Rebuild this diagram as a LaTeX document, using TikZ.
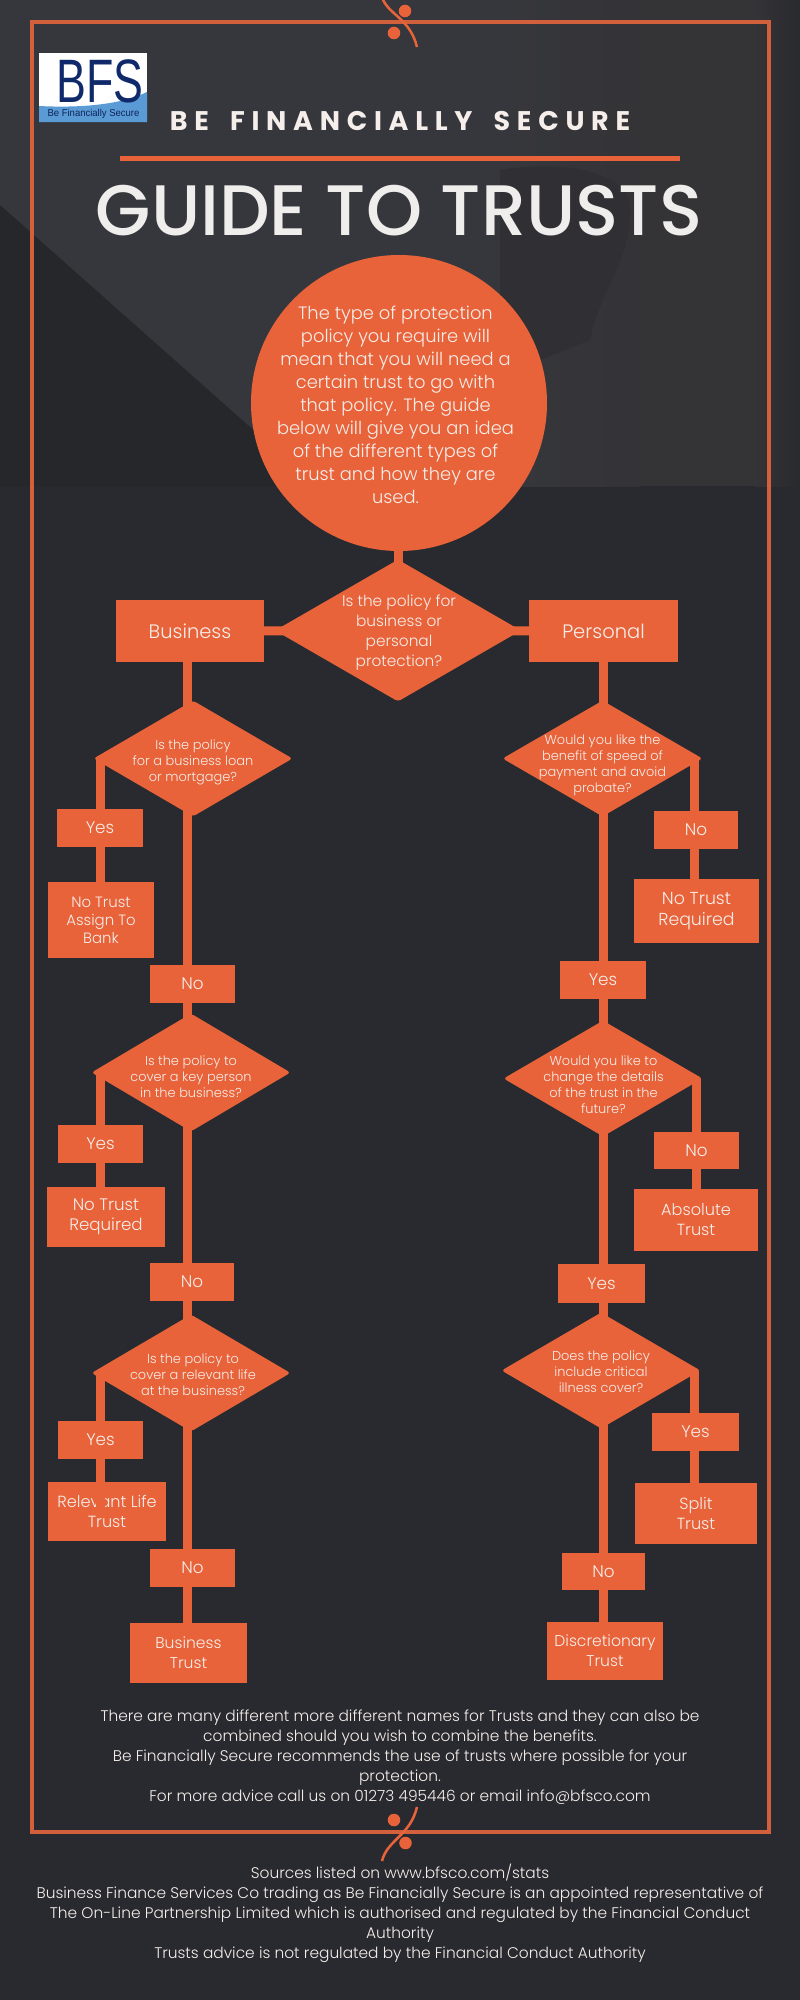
\documentclass[tikz,border=0pt]{standalone}
\usepackage{fontspec}
\setmainfont{Poppins}[UprightFont=* Light,BoldFont=* SemiBold]
\newfontfamily\titlef{Poppins}[UprightFont=* Medium]
\newfontfamily\headf{Poppins}[UprightFont=* Bold,LetterSpace=25,WordSpace=1.7]
\newfontfamily\logof{Liberation Sans}
\usetikzlibrary{shapes.geometric,backgrounds}
\definecolor{bgd}{HTML}{292A2F}
\definecolor{bgl}{HTML}{36373C}
\definecolor{bgk}{HTML}{26272B}
\definecolor{bgw}{HTML}{343336}
\definecolor{bgh}{HTML}{302F33}
\definecolor{ora}{HTML}{E8633A}
\definecolor{fra}{HTML}{D2603D}
\definecolor{ink}{HTML}{F6EEEA}
\definecolor{ttl}{HTML}{F0EEEC}
\definecolor{navy}{HTML}{10296B}
\definecolor{lblue}{HTML}{5B9BD5}
\tikzset{
  px/.style={x=0.75pt,y=-0.75pt},
  fq/.style={font=\fontsize{9.7pt}{12pt}\selectfont},
  fq1/.style={font=\fontsize{11.5pt}{15pt}\selectfont},
  fs/.style={font=\fontsize{11.2pt}{13.5pt}\selectfont},
  fm/.style={font=\fontsize{12.1pt}{15pt}\selectfont},
  fr/.style={font=\fontsize{12.5pt}{15pt}\selectfont},
  frr/.style={font=\fontsize{13pt}{15.7pt}\selectfont},
  ft/.style={font=\fontsize{11.7pt}{15pt}\selectfont},
  fl/.style={font=\fontsize{14.6pt}{18pt}\selectfont},
  fyes/.style={font=\fontsize{12.6pt}{15pt}\selectfont},
  ftext/.style={font=\fontsize{11.55pt}{15pt}\selectfont},
  orabox/.style={fill=ora,draw=none,text=ink,align=center,inner sep=0pt},
  plain/.style={text=ink,align=center,inner sep=0pt},
  qdia/.style={diamond,fill=ora,draw=none,inner sep=0pt,rounded corners=2.2pt,text=ink},
  link/.style={draw=ora,line width=6.75pt,line cap=butt},
  frameline/.style={draw=fra,line width=2.3pt},
  orn/.style={draw=ora,line width=1.9pt},
  dot/.style={circle,fill=ora,draw=none,inner sep=0pt,minimum size=9.4pt},
}
% box: name, x1,y1,x2,y2, style, text
\newcommand{\bxn}[7]{\node[orabox,#6,minimum width={(#4-#2)*0.75pt},minimum height={(#5-#3)*0.75pt}] (#1) at ({(#2+#4)/2},{(#3+#5)/2}) {#7};}
% diamond: name, left,top,right,bottom, label x,label y, style, text (the tips lose a little to the rounding, so the shape is drawn a little larger)
\newcommand{\dian}[9]{\node[qdia,minimum width={(#4-#2+5)*0.75pt},minimum height={(#5-#3+3)*0.75pt}] (#1) at ({(#2+#4)/2},{(#3+#5)/2}) {};
  \node[plain,#8] (#1t) at (#6,#7) {#9};}
\begin{document}
\begin{tikzpicture}[px]
\useasboundingbox (0,0) rectangle (800,2000);

% heading
\node[text=ink,inner sep=0pt,font=\headf\fontsize{20.2pt}{24pt}\selectfont] (head) at (400,120.5) {BE FINANCIALLY SECURE};
\node[fill=ora,inner sep=0pt,minimum width=420pt,minimum height=3.6pt] (rule) at (400,158.5) {};
\node[text=ttl,inner sep=0pt,font=\titlef\fontsize{53.6pt}{60pt}\selectfont] (title) at (399,210.5) {GUIDE TO TRUSTS};

% logo
\node[fill=white,inner sep=0pt,minimum width=81pt,minimum height=51.75pt] (logo) at (93,87.5) {};
\fill[lblue] (39,106) .. controls (80,108) and (120,105) .. (147,92) -- (147,122) -- (39,122) -- cycle;
\node[text=navy,inner sep=0pt,font=\logof\fontsize{46pt}{46pt}\selectfont] (logot) at (100,81.5) {\scalebox{0.73}[1]{BFS}};
\node[text=navy!85!black,inner sep=0pt,font=\logof\fontsize{7.5pt}{8pt}\selectfont] (logos) at (93.5,114) {\scalebox{0.95}[1]{Be Financially Secure}};

% intro
\node[circle,fill=ora,inner sep=0pt,minimum size=222pt] (intro) at (399,403) {};
\node[plain,font=\fontsize{13.4pt}{17.25pt}\selectfont] (introt) at (395.5,405) {The type of protection\\policy you require will\\mean that you will need a\\certain trust to go with\\that policy. The guide\\below will give you an idea\\of the different types of\\trust and how they are\\used.};

% top level
\dian{q0}{277.5}{561}{518.5}{700}{399}{633}{fq1}{Is the policy for\\business or\\personal\\protection?}
\bxn{biz}{116}{600}{264}{662}{fl}{Business}
\bxn{per}{529}{600}{678}{662}{fl}{Personal}

% business branch
\dian{qb1}{96}{702}{290}{815}{193}{762}{fq}{Is the policy\\for a business loan\\or mortgage?}
\bxn{by1}{57}{809}{143}{847}{fyes}{Yes}
\bxn{bt1}{48}{882}{154}{958}{fs}{No Trust\\Assign To\\Bank}
\bxn{bn1}{150}{965}{235}{1003}{fyes}{No}
\dian{qb2}{94}{1015}{288}{1130}{191}{1077}{fq}{Is the policy to\\cover a key person\\in the business?}
\bxn{by2}{58}{1125}{143}{1163}{fyes}{Yes}
\bxn{bt2}{47}{1187}{165}{1247}{fr}{No Trust\\Required}
\bxn{bn2}{150}{1263}{234}{1301}{fyes}{No}
\dian{qb3}{94}{1316}{288}{1430}{193}{1375}{fq}{Is the policy to\\cover a relevant life\\at the business?}
\bxn{by3}{58}{1421}{143}{1459}{fyes}{Yes}
\bxn{bt3}{48}{1482}{166}{1541}{fm}{Relevant Life\\Trust}
\bxn{bn3}{150}{1549}{235}{1587}{fyes}{No}
\bxn{bt4}{130}{1623}{247}{1683}{ft}{Business\\Trust}

% personal branch
\dian{qp1}{505}{702}{700}{815}{602.5}{765}{fq}{Would you like the\\benefit of speed of\\payment and avoid\\probate?}
\bxn{py1}{654}{811}{738}{849}{fyes}{No}
\bxn{pt1}{634}{879}{759}{943}{frr}{No Trust\\Required}
\bxn{pn1}{560}{961}{646}{999}{fyes}{Yes}
\dian{qp2}{506}{1022}{700}{1135}{603.5}{1085}{fq}{Would you like to\\change the details\\of the trust in the\\future?}
\bxn{py2}{654}{1132}{739}{1169}{fyes}{No}
\bxn{pt2}{634}{1189}{758}{1251}{fm}{Absolute\\Trust}
\bxn{pn2}{558}{1264}{645}{1303}{fyes}{Yes}
\dian{qp3}{504}{1314}{698}{1427}{601}{1372}{fq}{Does the policy\\include critical\\illness cover?}
\bxn{py3}{652}{1413}{739}{1451}{fyes}{Yes}
\bxn{pt3}{635}{1483}{757}{1544}{fm}{Split\\Trust}
\bxn{pn3}{562}{1553}{645}{1590}{fyes}{No}
\bxn{pt4}{547}{1622}{663}{1680}{ft}{Discretionary\\Trust}

% footers
\node[plain,ftext] (foot) at (400,1757) {There are many different more different names for Trusts and they can also be\\combined should you wish to combine the benefits.\\Be Financially Secure recommends the use of trusts where possible for your\\protection.\\For more advice call us on 01273 495446 or email info@bfsco.com};
\node[plain,ftext] (legal) at (400,1913) {Sources listed on www.bfsco.com/stats\\Business Finance Services Co trading as Be Financially Secure is an appointed representative of\\The On-Line Partnership Limited which is authorised and regulated by the Financial Conduct\\Authority\\Trusts advice is not regulated by the Financial Conduct Authority};

% link columns
\coordinate (cb) at (187,0);
\coordinate (cbl) at (100.5,0);
\coordinate (cp) at (603.5,0);
\coordinate (cpr) at (694,0);
\coordinate (relend) at (100.5,1510);

\begin{scope}[on background layer]
  \fill[bgd] (0,0) rectangle (800,2000);
  % photograph behind the head of the sheet
  \fill[bgl] (0,0) rectangle (500,486);
  \shade[left color=bgl,right color=bgw] (500,0) rectangle (640,486);
  \fill[bgw] (640,0) rectangle (755,486);
  \shade[left color=bgw,right color=bgd] (755,0) rectangle (800,486);
  \fill[bgk] (0,205) -- (250,427) -- (340,486) -- (0,486) -- cycle;
  \fill[bgh] (500,170) .. controls (560,160) and (625,170) .. (630,205) .. controls (632,260) and (600,290) .. (590,340) -- (540,360) -- (500,340) -- cycle;
  \draw[frameline] (32,22) rectangle (769,1832);
  \draw[orn] (382,-3) .. controls (387,14) and (410,18) .. (417,47);
  \node[dot] (d1) at (405,11) {};
  \node[dot] (d2) at (394,33) {};
  \draw[orn] (417,1807) .. controls (410,1836) and (387,1840) .. (382,1861);
  \node[dot] (d3) at (394,1820) {};
  \node[dot] (d4) at (405.5,1843) {};
  % top links
  \draw[link] (intro.center -| q0.center) -- (q0.center);
  \draw[link] (biz.center) -- (q0.center);
  \draw[link] (per.center) -- (q0.center);
  % business
  \draw[link] (biz.center -| cb) -- (qb1.center -| cb);
  \draw[link] (qb1.center -| cb) -- (bn1.center -| cb);
  \draw[link] (bn1.center -| cb) -- (qb2.center -| cb);
  \draw[link] (qb2.center -| cb) -- (bn2.center -| cb);
  \draw[link] (bn2.center -| cb) -- (qb3.center -| cb);
  \draw[link] (qb3.center -| cb) -- (bn3.center -| cb);
  \draw[link] (bn3.center -| cb) -- (bt4.center -| cb);
  \draw[link] (qb1.west -| cbl) -- (by1.center -| cbl);
  \draw[link] (by1.center -| cbl) -- (bt1.center -| cbl);
  \draw[link] (qb2.west -| cbl) -- (by2.center -| cbl);
  \draw[link] (by2.center -| cbl) -- (bt2.center -| cbl);
  \draw[link] (qb3.west -| cbl) -- (by3.center -| cbl);
  % personal
  \draw[link] (per.center -| cp) -- (qp1.center -| cp);
  \draw[link] (qp1.center -| cp) -- (pn1.center -| cp);
  \draw[link] (pn1.center -| cp) -- (qp2.center -| cp);
  \draw[link] (qp2.center -| cp) -- (pn2.center -| cp);
  \draw[link] (pn2.center -| cp) -- (qp3.center -| cp);
  \draw[link] (qp3.center -| cp) -- (pn3.center -| cp);
  \draw[link] (pn3.center -| cp) -- (pt4.center -| cp);
  \draw[link] (qp1.east -| cpr) -- (py1.center -| cpr);
  \draw[link] (py1.center -| cpr) -- (pt1.center -| cpr);
  \draw[link] ([xshift=1.5pt]qp2.east -| cpr) -- ([xshift=1.5pt]py2.center -| cpr);
  \draw[link] ([xshift=1.5pt]py2.center -| cpr) -- ([xshift=1.5pt]pt2.center -| cpr);
  \draw[link] (qp3.east -| cpr) -- (py3.center -| cpr);
  \draw[link] (py3.center -| cpr) -- (pt3.center -| cpr);
\end{scope}
% this one runs over the text of its box, as in the picture
\draw[link] (by3.south -| cbl) -- (relend);
\end{tikzpicture}
\end{document}
